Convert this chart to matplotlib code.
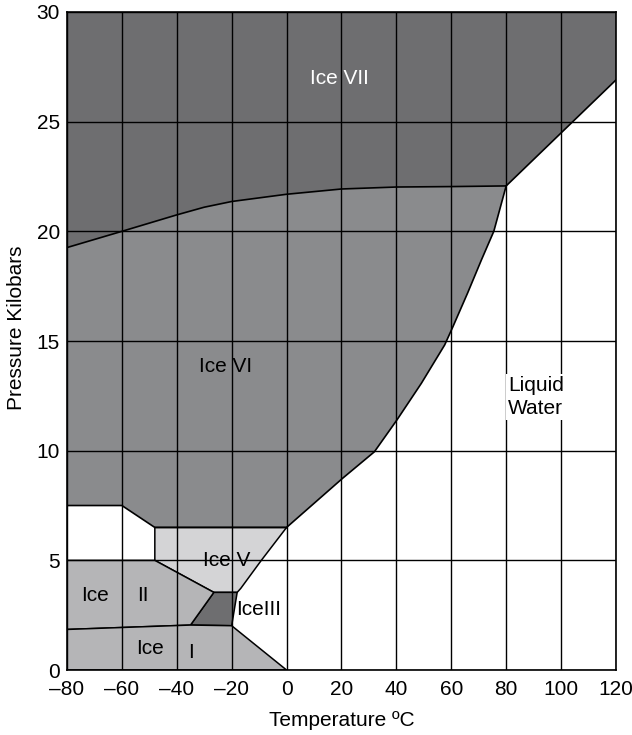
import matplotlib
matplotlib.use("Agg")
import matplotlib.pyplot as plt
from matplotlib.patches import Polygon

plt.rcParams["font.family"] = ["Liberation Sans", "DejaVu Sans"]

# phase boundaries (temperature C, pressure kbar)
vii_vi_t = [-80, -60, -40, -30, -20, 0, 20, 40, 60, 80]
vii_vi_p = [19.26, 20.0, 20.75, 21.1, 21.36, 21.69, 21.93, 22.02, 22.04, 22.07]

melt_t = [0, 20.4, 32.0, 40.2, 49.1, 57.6, 60.6, 66.0, 71.0, 75.5, 80]
melt_p = [6.5, 8.74, 9.95, 11.4, 13.07, 14.82, 15.65, 17.2, 18.7, 20.0, 22.07]

vii_liq_t = [80, 120]
vii_liq_p = [22.07, 26.9]

vi_bottom_t = [0, -48, -48, -60, -80]
vi_bottom_p = [6.5, 6.5, 6.5, 7.5, 7.5]

ice5_t = [-48, 0, -9.2, -16.7, -18.0, -26.5, -48]
ice5_p = [6.5, 6.5, 5.0, 3.72, 3.54, 3.54, 5.0]

ice3_t = [-26.5, -18.0, -20.0, -35.0]
ice3_p = [3.54, 3.54, 2.02, 2.05]

ice2_t = [-80, -80, -48, -26.5, -35.0]
ice2_p = [1.85, 5.0, 5.0, 3.54, 2.05]

ice1_t = [-80, -80, -35.0, -20.0, 0]
ice1_p = [0, 1.85, 2.05, 2.02, 0]

labels = ["Ice VII", "Ice VI", "Ice V", "Ice", "II", "Ice", "I", "IceIII"]
label_t = [19.2, -22.1, -21.9, -69.8, -52.2, -49.7, -35.0, -10.2]
label_p = [26.95, 13.83, 5.0, 3.42, 3.42, 1.0, 0.8, 2.74]
label_col = ["white", "black", "black", "black", "black", "black", "black", "black"]

c_vii = "#6e6e70"
c_vi = "#8a8b8d"
c_v = "#d4d4d6"
c_i = "#b5b5b7"
c_iii = "#6e6e70"

fig = plt.figure(figsize=(6.32, 7.35), dpi=100)
ax = fig.add_axes([0.106, 0.0884, 0.8686, 0.8953])

# Ice VII polygon
vii = list(zip([-80, 120] + vii_liq_t[::-1] + vii_vi_t[::-1],
               [30, 30] + vii_liq_p[::-1] + vii_vi_p[::-1]))
ax.add_patch(Polygon(vii, closed=True, fc=c_vii, ec="none", zorder=1))

# Ice VI polygon
vi = list(zip(vii_vi_t + melt_t[::-1][1:] + vi_bottom_t[1:],
              vii_vi_p + melt_p[::-1][1:] + vi_bottom_p[1:]))
ax.add_patch(Polygon(vi, closed=True, fc=c_vi, ec="none", zorder=1))

for tt, pp, col in [(ice5_t, ice5_p, c_v), (ice3_t, ice3_p, c_iii),
                    (ice2_t, ice2_p, c_i), (ice1_t, ice1_p, c_i)]:
    ax.add_patch(Polygon(list(zip(tt, pp)), closed=True, fc=col,
                         ec="black", lw=1.1, zorder=1))

lw = 1.2
ax.plot(vii_vi_t, vii_vi_p, color="black", lw=lw, zorder=3)
ax.plot(melt_t, melt_p, color="black", lw=lw, zorder=3)
ax.plot(vii_liq_t, vii_liq_p, color="black", lw=lw, zorder=3)
ax.plot(vi_bottom_t, vi_bottom_p, color="black", lw=lw, zorder=3)

fs = 15
for s, tx, py, col in zip(labels, label_t, label_p, label_col):
    ax.text(tx, py, s, ha="center", va="center", fontsize=fs, color=col, zorder=4)

ax.text(80.7, 12.45, "Liquid\nWater", ha="left", va="center", fontsize=fs,
        linespacing=1.25, zorder=4,
        bbox=dict(boxstyle="square,pad=0.1", fc="white", ec="none"))

ax.set_xlim(-80, 120)
ax.set_ylim(0, 30)
ax.set_xticks(range(-80, 121, 20))
ax.set_yticks(range(0, 31, 5))
ax.set_xticklabels([str(v).replace("-", "\u2013") for v in range(-80, 121, 20)])
ax.tick_params(length=0, labelsize=fs)
ax.tick_params(axis="x", pad=7)
ax.tick_params(axis="y", pad=5)
ax.grid(True, color="black", lw=1.0)
for s in ax.spines.values():
    s.set_linewidth(1.2)

ax.set_xlabel("Temperature ºC", fontsize=fs, labelpad=9)
ax.set_ylabel("Pressure Kilobars", fontsize=fs, labelpad=8)
ax.yaxis.set_label_coords(-0.074, 0.52)

fig.savefig("out.png", dpi=100)
